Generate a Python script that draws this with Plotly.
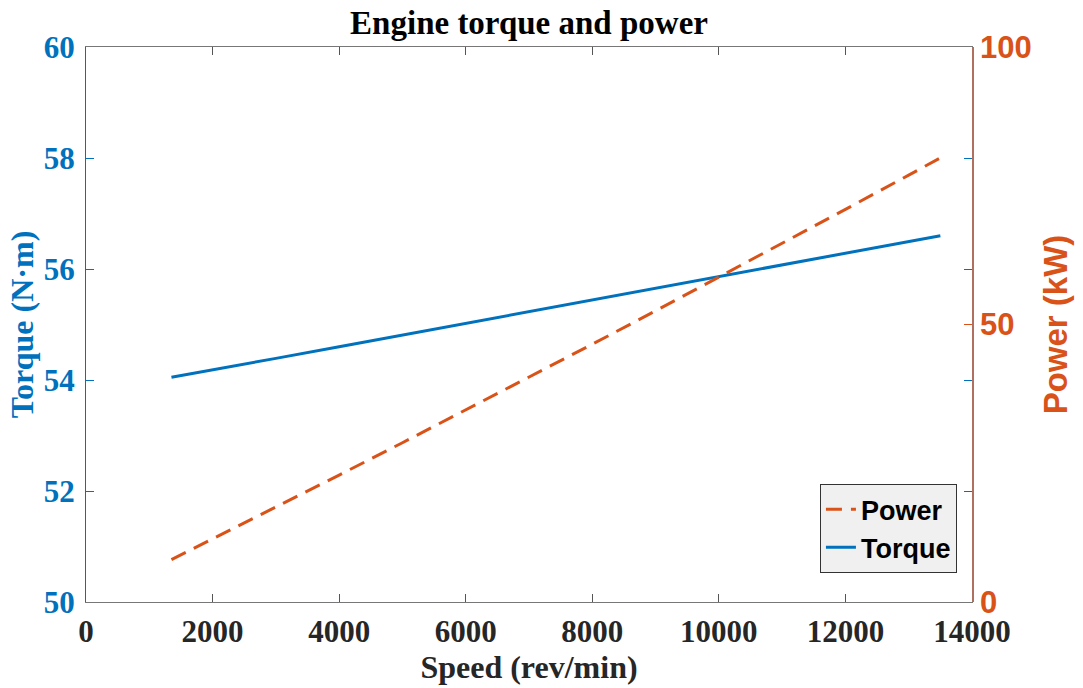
import plotly.graph_objects as go

# Engine speed samples (rev/min)
speed_rpm = [1350, 2000, 3000, 4000, 5000, 6000, 7000, 8000, 9000,
             10000, 11000, 12000, 13000, 13500]
# Engine torque (N·m)
torque_nm = [54.05, 54.18, 54.39, 54.60, 54.81, 55.02, 55.23, 55.45, 55.66,
             55.87, 56.08, 56.29, 56.50, 56.60]
# Engine power (kW)
power_kw = [7.64, 11.35, 17.09, 22.87, 28.70, 34.57, 40.49, 46.45, 52.46,
            58.51, 64.60, 70.74, 76.92, 80.02]

x_ticks = [0, 2000, 4000, 6000, 8000, 10000, 12000, 14000]
x_tick_text = ["0", "2000", "4000", "6000", "8000", "10000", "12000", "14000"]
torque_ticks = [50, 52, 54, 56, 58, 60]
power_ticks = [0, 50, 100]

BLUE = "#0072BD"
ORANGE = "#D95319"
SERIF = "Liberation Serif"
SANS = "Liberation Sans"

fig = go.Figure()

fig.add_trace(go.Scatter(
    x=speed_rpm, y=power_kw, name="Power", yaxis="y2", mode="lines",
    line=dict(color=ORANGE, width=3, dash="16px,9px"), legendrank=1,
))
fig.add_trace(go.Scatter(
    x=speed_rpm, y=torque_nm, name="Torque", yaxis="y", mode="lines",
    line=dict(color=BLUE, width=3), legendrank=2,
))

fig.update_layout(
    width=1083, height=688,
    margin=dict(l=86, r=111, t=47, b=86),
    paper_bgcolor="white", plot_bgcolor="white",
    title=dict(
        text="Engine torque and power", x=0.4885, xanchor="center",
        y=0.968, yanchor="middle",
        font=dict(family=SERIF, size=33, color="black", weight="bold"),
    ),
    xaxis=dict(
        range=[0, 14000], tickvals=x_ticks, ticktext=x_tick_text,
        ticks="inside", ticklen=8, ticklabelstandoff=2,
        tickcolor="#555555", showline=True, linecolor="#777777", linewidth=1,
        mirror="ticks", showgrid=False, zeroline=False,
        tickfont=dict(family=SERIF, size=31, color="#262626", weight="bold"),
        title=dict(text="Speed (rev/min)", standoff=2,
                   font=dict(family=SERIF, size=32, color="#262626", weight="bold")),
    ),
    yaxis=dict(
        range=[50, 60], tickvals=torque_ticks, ticks="inside", ticklen=8,
        tickcolor=BLUE, showline=True, linecolor=BLUE, linewidth=1,
        mirror="ticks", showgrid=False, zeroline=False, ticklabelstandoff=4,
        tickfont=dict(family=SERIF, size=31, color=BLUE, weight="bold"),
        title=dict(text="Torque (N·m)", standoff=0,
                   font=dict(family=SERIF, size=32, color=BLUE, weight="bold")),
    ),
    yaxis2=dict(
        range=[0, 100], tickvals=power_ticks, ticks="inside", ticklen=8,
        tickcolor=ORANGE, showline=True, linecolor="#B07060", linewidth=1.5,
        overlaying="y", side="right", showgrid=False, zeroline=False,
        ticklabelstandoff=0,
        tickfont=dict(family=SANS, size=31, color=ORANGE, weight="bold"),
        title=dict(text="Power (kW)", standoff=13,
                   font=dict(family=SANS, size=33, color=ORANGE, weight="bold")),
    ),
    legend=dict(
        x=0.983, y=0.052, xanchor="right", yanchor="bottom",
        bgcolor="#F0F0F0", bordercolor="#333333", borderwidth=1,
        font=dict(family=SANS, size=27, color="black", weight="bold"),
        tracegroupgap=0,
    ),
    showlegend=True,
)

fig.write_html("out.html")
